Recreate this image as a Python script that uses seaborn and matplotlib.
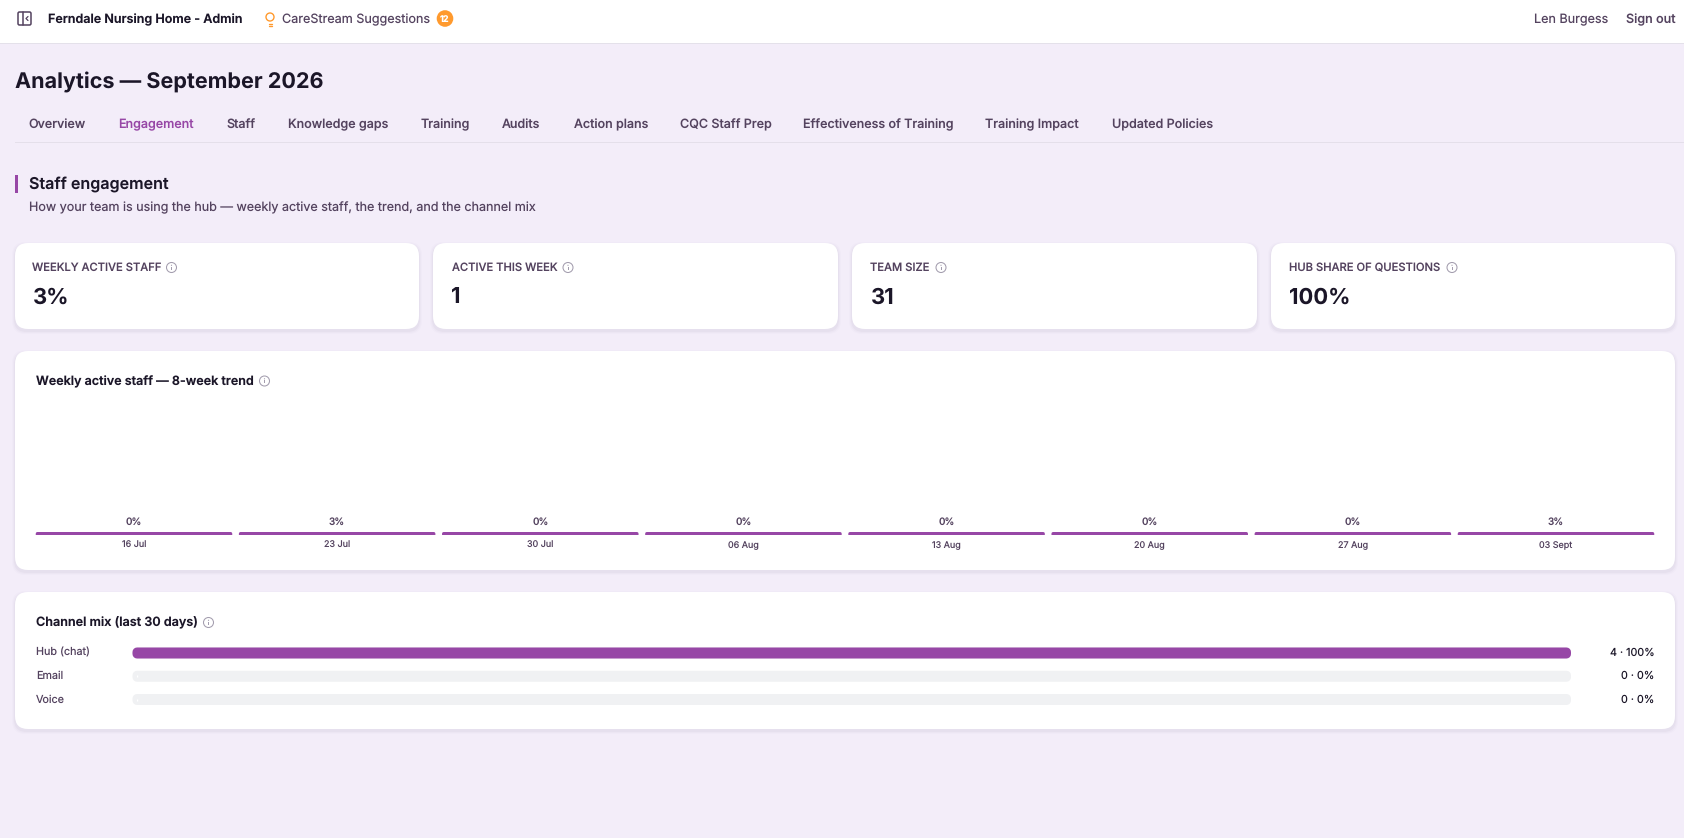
import numpy as np
import pandas as pd
import matplotlib
matplotlib.use("Agg")
import matplotlib.pyplot as plt
from matplotlib.patches import FancyBboxPatch, Rectangle, Circle
from matplotlib.transforms import ScaledTranslation
import seaborn as sns

# chart values
weeks = ["16 Jul", "23 Jul", "30 Jul", "06 Aug", "13 Aug", "20 Aug", "27 Aug", "03 Sept"]
weekly_active_pct = [0, 3, 0, 0, 0, 0, 0, 3]
channels = ["Hub (chat)", "Email", "Voice"]
channel_counts = [4, 0, 0]
channel_pct = [100, 0, 0]

# page text
tabs = ["Overview", "Engagement", "Staff", "Knowledge gaps", "Training", "Audits", "Action plans",
        "CQC Staff Prep", "Effectiveness of Training", "Training Impact", "Updated Policies"]
tab_x = [28.5, 118, 226.5, 288, 421, 501.5, 573.5, 680, 803, 985, 1111.5]
kpi_labels = ["WEEKLY ACTIVE STAFF", "ACTIVE THIS WEEK", "TEAM SIZE", "HUB SHARE OF QUESTIONS"]
kpi_values = ["3%", "1", "31", "100%"]
kpi_left = [15, 433, 852, 1271]
kpi_right = [419, 838, 1257, 1675]
kpi_text_x = [32.5, 451.5, 870.5, 1289]
kpi_info_x = [171.5, 568, 941, 1452]

W, H = 1684, 838
PURPLE = "#9747A6"
TRACK = "#F0F1F3"
BG = "#F3EDF9"
DARK = "#1B1628"
MID = "#54435F"
ORANGE = "#FF9A2E"
RING = "#A39DAE"

sns.set_theme(style="white")
plt.rcParams["font.family"] = ["Inter", "DejaVu Sans"]
plt.rcParams["axes.unicode_minus"] = False
plt.rcParams["text.hinting"] = "no_hinting"
plt.rcParams["text.hinting_factor"] = 1


def px(size):
    # css px to points at dpi 100
    return size * 0.72


fig = plt.figure(figsize=(W / 100, H / 100), dpi=100, facecolor=BG)
page = fig.add_axes([0, 0, 1, 1], zorder=0)
page.set_xlim(0, W)
page.set_ylim(H, 0)
page.axis("off")


def txt(x, y, s, size, color=MID, weight="normal", ha="left"):
    # y is the middle of the capitals, drawn on the baseline so rows stay level
    return page.text(x, y + 0.36 * size, s, fontsize=px(size), color=color, fontweight=weight, ha=ha, va="baseline")


def card(x0, y0, x1, y1, r=13):
    # soft shadow then the white card
    for grow, alpha in [(3, 0.012), (2, 0.02), (1, 0.03)]:
        page.add_patch(FancyBboxPatch((x0 - grow, y0 - grow + 2), x1 - x0 + 2 * grow, y1 - y0 + 2 * grow,
                                      boxstyle=f"round,pad=0,rounding_size={r}", fc="#3A2A55", ec="none", alpha=alpha))
    page.add_patch(FancyBboxPatch((x0, y0), x1 - x0, y1 - y0, boxstyle=f"round,pad=0,rounding_size={r}",
                                  fc="white", ec="none"))


def info(x, y):
    page.add_patch(Circle((x, y), 5, fc="none", ec=RING, lw=0.75))
    page.add_patch(Rectangle((x - 0.5, y - 0.8), 1, 3.2, fc=RING, ec="none"))
    page.add_patch(Circle((x, y - 2.2), 0.6, fc=RING, ec="none"))


# top bar
page.add_patch(Rectangle((0, 0), W, 43, fc="white", ec="none"))
page.add_patch(Rectangle((0, 43), W, 1, fc="#E4E1EA", ec="none"))
page.add_patch(FancyBboxPatch((18, 12), 13, 13, boxstyle="round,pad=0,rounding_size=1.5", fc="none", ec=MID, lw=1.1))
page.plot([23, 23], [12, 25], color=MID, lw=1.1)
page.plot([28, 26, 28], [16.5, 18.5, 20.5], color=MID, lw=0.9)
txt(48, 18.5, "Ferndale Nursing Home - Admin", 12.55, DARK, "semibold")
page.add_patch(Circle((270, 17), 4, fc="none", ec=ORANGE, lw=1))
page.plot([268.5, 271.5], [24, 24], color=ORANGE, lw=1)
page.plot([268.5, 271.5], [26, 26], color=ORANGE, lw=1)
txt(281.5, 18.5, "CareStream Suggestions", 12.6)
page.add_patch(Circle((445, 18.5), 8.3, fc=ORANGE, ec="none"))
txt(445, 18.5, "12", 9, "white", "bold", ha="center")
txt(1534, 18.5, "Len Burgess", 12.6)
txt(1626, 18.5, "Sign out", 12.6, MID, "medium")

# page header and tabs
txt(15, 80.8, "Analytics — September 2026", 21.6, DARK, "bold")
for name, x in zip(tabs, tab_x):
    txt(x, 123.5, name, 12.55, PURPLE if name == "Engagement" else MID, "medium")
page.add_patch(Rectangle((15, 142), W - 15, 1.5, fc="#E4DFEA", ec="none"))

page.add_patch(Rectangle((15, 175), 3, 18, fc=PURPLE, ec="none"))
txt(29, 183, "Staff engagement", 16.1, DARK, "semibold")
txt(29, 207, "How your team is using the hub — weekly active staff, the trend, and the channel mix", 12.57)

# kpi cards
for label, value, x0, x1, tx, ix in zip(kpi_labels, kpi_values, kpi_left, kpi_right, kpi_text_x, kpi_info_x):
    card(x0, 243, x1, 329)
    txt(tx, 267, label, 11.2, MID, "medium")
    txt(tx, 295.5, value, 22, DARK, "bold")
    info(ix, 267.5)

# chart cards
card(15, 351, 1675, 570)
txt(36, 381, "Weekly active staff — 8-week trend", 12.56, DARK, "semibold")
info(264.5, 381)
card(15, 592, 1675, 729)
txt(36, 622, "Channel mix (last 30 days)", 12.6, DARK, "semibold")
info(208.5, 622.5)

# 8 week trend, bars have a 3px floor like the original
trend = pd.DataFrame({"week": weeks, "pct": weekly_active_pct})
trend["shown"] = trend["pct"].clip(lower=3)
slot = (1458 - 36) / 7
x0, x1 = 36 + 98 - slot / 2, 36 + 98 + 7.5 * slot
ax = fig.add_axes([x0 / W, 1 - 535 / H, (x1 - x0) / W, 135 / H], zorder=1)
ax.patch.set_alpha(0)
sns.barplot(data=trend, x="week", y="shown", color=PURPLE, saturation=1, width=193.5 / slot, ax=ax)
ax.set_xlim(-0.5, 7.5)
ax.set_ylim(0, 270)
ax.set_xlabel("")
ax.set_ylabel("")
ax.set_yticks([])
sns.despine(ax=ax, left=True, bottom=True)
ax.tick_params(axis="x", length=0, pad=px(13), labelsize=px(9), labelcolor=MID)
for label in ax.get_xticklabels():
    label.set_verticalalignment("baseline")
for bar in ax.patches:
    bar.set_edgecolor(PURPLE)
    bar.set_linewidth(px(3))
    bar.set_joinstyle("round")
    bar.set_snap(False)
for i, v in enumerate(trend["pct"]):
    ax.annotate(f"{v}%", xy=(i, 3), xytext=(0, px(9)), textcoords="offset points", ha="center",
                va="baseline", fontsize=px(10), color=MID, fontweight="medium")

# channel mix
mix = pd.DataFrame({"channel": channels, "track": 100, "pct": channel_pct})
r = 4.5
ax2 = fig.add_axes([(132.5 + r) / W, 1 - (653 + 2.5 * 23.25) / H, (1438.5 - 2 * r) / W, 3 * 23.25 / H], zorder=1)
ax2.patch.set_alpha(0)
sns.barplot(data=mix, y="channel", x="track", color=TRACK, saturation=1, width=2 / 23.25, ax=ax2)
sns.barplot(data=mix, y="channel", x="pct", color=PURPLE, saturation=1, width=2 / 23.25, ax=ax2)
ax2.set_xlim(0, 100)
ax2.set_ylim(2.5, -0.5)
ax2.set_xlabel("")
ax2.set_ylabel("")
ax2.set_xticks([])
sns.despine(ax=ax2, left=True, bottom=True)
for bar in ax2.patches:
    if bar.get_width() == 0:
        continue
    bar.set_edgecolor(bar.get_facecolor())
    bar.set_linewidth(px(2 * r))
    bar.set_joinstyle("round")
    bar.set_clip_on(False)
    bar.set_snap(False)
ax2.tick_params(axis="y", length=0, pad=px(132.5 + r - 36), labelsize=px(10.8), labelcolor=MID)
down = ScaledTranslation(0, -2.9 / 100, fig.dpi_scale_trans)
for label in ax2.get_yticklabels():
    label.set_horizontalalignment("left")
    label.set_verticalalignment("baseline")
    label.set_transform(label.get_transform() + down)
for i, (n, p) in enumerate(zip(channel_counts, channel_pct)):
    ax2.annotate(f"{n} · {p}%", xy=(1, i), xycoords=ax2.get_yaxis_transform(), xytext=(px(1654.5 - 1566.5), px(-2.9)),
                 textcoords="offset points", ha="right", va="baseline", fontsize=px(10.8), color=DARK)

fig.savefig("out.png", dpi=100, facecolor=BG)
